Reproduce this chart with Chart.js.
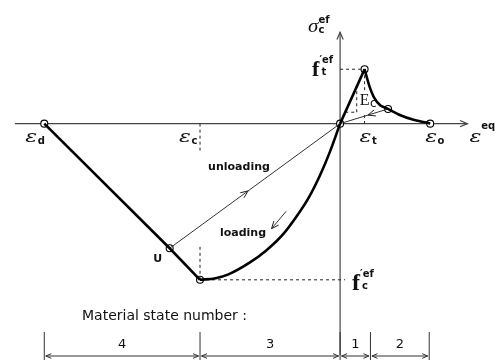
<!DOCTYPE html>
<html>
<head>
<meta charset="utf-8">
<script src="https://cdn.jsdelivr.net/npm/chart.js@4.4.1/dist/chart.umd.min.js"></script>
<style>
  html, body { margin: 0; background: #fff; }
  #wrap { width: 497px; height: 360px; }
</style>
</head>
<body>
<div id="wrap"><canvas id="concreteChart" width="497" height="360"></canvas></div>
<script>
// strain in units of eps_t, stress in units of f't
const epsD = -12.08, epsC = -5.72, epsT = 1, epsO = 3.68;
const fT = 1, fC = -2.87;
const pointU = [-6.96, -2.29];          // unloading start on the crushing branch
const pointS = [1.96, 0.27];            // unloading start on the softening branch

// compression (loading) branch, f'c -> origin
const compX = [-5.72, -5.08, -4.56, -3.68, -3.04, -2.36, -1.8, -1.28, -0.8, -0.4, 0];
const compY = [-2.87, -2.84, -2.77, -2.55, -2.34, -2.05, -1.72, -1.36, -0.93, -0.50, 0];
// tension softening branch, f't -> eps_o
const softX = [1, 1.19, 1.39, 1.64, 1.96, 2.44, 3.0, 3.52, 3.68];
const softY = [1, 0.70, 0.48, 0.34, 0.27, 0.16, 0.07, 0.02, 0];

// material state zones along the strain axis
const stateEdges = [epsD, epsC, 0, 1.24, 3.64];
const stateNames = ['4', '3', '1', '2'];

const xyPairs = (xs, ys) => xs.map((x, i) => ({ x: x, y: ys[i] }));
const P = (a) => ({ x: a[0], y: a[1] });

const thick = { borderColor: '#000', borderWidth: 2.6, pointRadius: 0, showLine: true };
const thin = { borderColor: '#333', borderWidth: 1, pointRadius: 0, showLine: true };
const dashed = { borderColor: '#222', borderWidth: 1, borderDash: [3, 3], pointRadius: 0, showLine: true };

const guides = [
  [[0, fT], [epsT, fT]],
  [[epsC, fC], [0.2, fC]],
  [[epsC, 0], [epsC, -0.54]],
  [[epsC, fC], [epsC, -2.21]],
  [[epsT, fT], [epsT, 0.62]],
  [[epsT, 0.16], [epsT, 0]],
  [[0.21, 0.21], [0.68, 0.21]],
  [[0.68, 0.21], [0.68, 0.66]]
];

const datasets = [
  Object.assign({ data: [{ x: epsD, y: 0 }, P(pointU), { x: epsC, y: fC }] }, thick),
  Object.assign({ data: xyPairs(compX, compY), cubicInterpolationMode: 'monotone' }, thick),
  Object.assign({ data: [{ x: 0, y: 0 }, { x: epsT, y: fT }] }, thick),
  Object.assign({ data: xyPairs(softX, softY), tension: 0.2 }, thick),
  Object.assign({ data: [P(pointU), { x: 0, y: 0 }] }, thin),
  Object.assign({ data: [P(pointS), { x: 0, y: 0 }] }, thin),
  Object.assign({ data: [{ x: -2.2, y: -1.61 }, { x: -2.8, y: -1.93 }] }, thin)
];
guides.forEach(g => datasets.push(Object.assign({ data: g.map(P) }, dashed)));
datasets.push({
  data: [{ x: epsD, y: 0 }, P(pointU), { x: epsC, y: fC }, { x: 0, y: 0 },
         { x: epsT, y: fT }, P(pointS), { x: epsO, y: 0 }],
  showLine: false,
  pointRadius: 3.5,
  pointBackgroundColor: '#fff',
  pointBorderColor: '#000',
  pointBorderWidth: 1.1
});

// open arrowhead with its tip at (x, y) pointing along angle a
function arrowHead(ctx, x, y, a, len) {
  ctx.beginPath();
  ctx.moveTo(x - len * Math.cos(a - 0.4), y - len * Math.sin(a - 0.4));
  ctx.lineTo(x, y);
  ctx.lineTo(x - len * Math.cos(a + 0.4), y - len * Math.sin(a + 0.4));
  ctx.stroke();
}

// symbol with superscript and subscript; sx stretches the base glyph
function symbol(ctx, x, y, base, sup, sub, o) {
  ctx.textAlign = 'left';
  ctx.textBaseline = 'alphabetic';
  ctx.font = o.font;
  const k = o.sx || 1;
  ctx.save();
  ctx.translate(x, y);
  ctx.scale(k, 1);
  ctx.fillText(base, 0, 0);
  ctx.restore();
  const w = ctx.measureText(base).width * k;
  ctx.font = o.small;
  if (sup) ctx.fillText(sup, x + w + (o.supDx || 0), y + o.supDy);
  if (sub) ctx.fillText(sub, x + w + (o.subDx || 0), y + o.subDy);
}

const diagramPlugin = {
  id: 'diagram',
  beforeDatasetsDraw(chart) {
    const ctx = chart.ctx, sx = chart.scales.x, sy = chart.scales.y;
    const x0 = sx.getPixelForValue(0), y0 = sy.getPixelForValue(0);
    ctx.save();
    ctx.strokeStyle = '#444';
    ctx.lineWidth = 1.2;
    // strain axis
    const xa = sx.getPixelForValue(-13.28), xb = sx.getPixelForValue(5.2);
    ctx.beginPath(); ctx.moveTo(xa, y0); ctx.lineTo(xb, y0); ctx.stroke();
    arrowHead(ctx, xb, y0, 0, 8);
    // stress axis
    const yt = sy.getPixelForValue(1.68);
    ctx.beginPath(); ctx.moveTo(x0, chart.chartArea.bottom); ctx.lineTo(x0, yt); ctx.stroke();
    arrowHead(ctx, x0, yt, -Math.PI / 2, 8);

    // material state dimension lines
    const yd = 356;
    ctx.strokeStyle = '#333';
    ctx.lineWidth = 1;
    stateEdges.forEach(e => {
      const p = sx.getPixelForValue(e);
      ctx.beginPath(); ctx.moveTo(p, 332); ctx.lineTo(p, 360); ctx.stroke();
    });
    ctx.fillStyle = '#111';
    ctx.font = '13px "DejaVu Sans", sans-serif';
    ctx.textAlign = 'center';
    ctx.textBaseline = 'middle';
    for (let i = 0; i < stateNames.length; i++) {
      const a = sx.getPixelForValue(stateEdges[i]) + 1.5;
      const b = sx.getPixelForValue(stateEdges[i + 1]) - 1.5;
      ctx.beginPath(); ctx.moveTo(a, yd); ctx.lineTo(b, yd); ctx.stroke();
      arrowHead(ctx, a, yd, Math.PI, 6);
      arrowHead(ctx, b, yd, 0, 6);
      ctx.fillText(stateNames[i], (a + b) / 2, 345);
    }
    ctx.restore();
  },
  afterDatasetsDraw(chart) {
    const ctx = chart.ctx, sx = chart.scales.x, sy = chart.scales.y;
    const X = v => sx.getPixelForValue(v), Y = v => sy.getPixelForValue(v);
    ctx.save();
    ctx.strokeStyle = '#222';
    ctx.lineWidth = 1;

    // direction arrows on the unloading / loading paths
    const along = (from, to, t) => {
      const ax = X(from[0]), ay = Y(from[1]), bx = X(to[0]), by = Y(to[1]);
      arrowHead(ctx, ax + (bx - ax) * t, ay + (by - ay) * t, Math.atan2(by - ay, bx - ax), 8);
    };
    along(pointU, [0, 0], 0.46);
    along(pointS, [0, 0], 0.42);
    along([-2.2, -1.61], [-2.8, -1.93], 1);

    ctx.fillStyle = '#111';
    const eps = { font: 'italic 17px "DejaVu Serif", serif', sx: 1.3,
                  small: 'bold 10px "DejaVu Sans", sans-serif', supDy: -10, subDy: 2, subDx: 0.5 };
    symbol(ctx, X(epsD) - 19, Y(0) + 18, 'ε', null, 'd', eps);
    symbol(ctx, X(epsC) - 21, Y(0) + 18, 'ε', null, 'c', eps);
    symbol(ctx, X(epsT) - 5, Y(0) + 18, 'ε', null, 't', eps);
    symbol(ctx, X(epsO) - 5, Y(0) + 18, 'ε', null, 'o', eps);
    symbol(ctx, X(5.2) + 2, Y(0) + 18, 'ε', 'eq', null, Object.assign({}, eps, { supDy: -13 }));

    const fnt = { font: 'bold 22px "Liberation Serif", serif', small: 'bold 10px "DejaVu Sans", sans-serif', supDy: -13, subDy: -1, subDx: 2 };
    symbol(ctx, X(0) - 28, Y(fT) + 7, 'f', '\u2032ef', 't', fnt);
    symbol(ctx, X(0) + 12, Y(fC) + 10, 'f', '\u2032ef', 'c', Object.assign({}, fnt, { font: 'bold 24px "Liberation Serif", serif' }));

    symbol(ctx, X(0) - 32, Y(1.68), 'σ', 'ef', 'c',
      { font: 'italic 19px "Liberation Serif", serif', sx: 1.1, small: 'bold 10px "DejaVu Sans", sans-serif', supDy: -9, subDy: 1 });

    symbol(ctx, X(0.8), Y(0.34), 'E', null, 'c',
      { font: '16px "Liberation Serif", serif', small: '12px "DejaVu Sans", sans-serif', supDy: 0, subDy: 2, subDx: 0.5 });

    ctx.font = 'bold 11px "DejaVu Sans", sans-serif';
    ctx.textAlign = 'center';
    ctx.textBaseline = 'middle';
    ctx.fillText('unloading', 239, 167);
    ctx.fillText('loading', 243, 233);
    ctx.fillText('U', X(pointU[0]) - 12, Y(pointU[1]) + 11);

    ctx.font = '14px "DejaVu Sans", sans-serif';
    ctx.textAlign = 'left';
    ctx.fillText('Material state number :', 82, 316);
    ctx.restore();
  }
};

new Chart(document.getElementById('concreteChart'), {
  type: 'scatter',
  data: { datasets: datasets },
  options: {
    responsive: false,
    animation: false,
    layout: { padding: 0 },
    plugins: { legend: { display: false }, tooltip: { enabled: false } },
    scales: {
      x: { type: 'linear', display: false, min: -13.68, max: 6.2 },
      y: { type: 'linear', display: false, min: -4.25, max: 2.1786 }
    }
  },
  plugins: [diagramPlugin]
});
</script>
</body>
</html>
